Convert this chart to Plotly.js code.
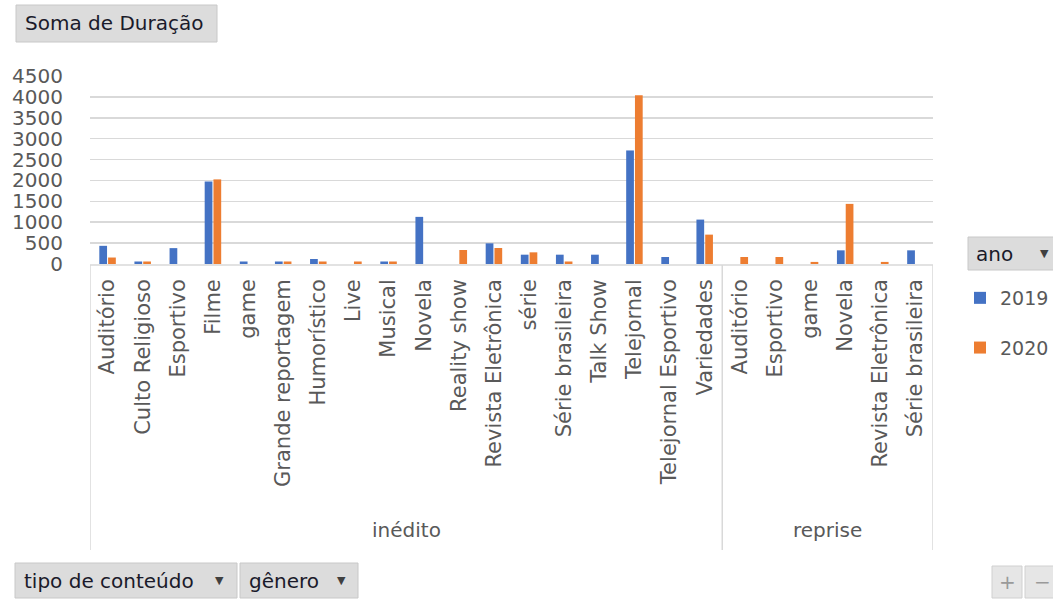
<!DOCTYPE html>
<html>
<head>
<meta charset="utf-8">
<script src="https://cdn.plot.ly/plotly-3.0.1.min.js"></script>
<style>html,body{margin:0;padding:0;background:#fff;}#chart{width:1053px;height:599px;}</style>
</head>
<body>
<div id="chart"></div>
<script>
// ---- data ----
const generoInedito = ["Auditório","Culto Religioso","Esportivo","Filme","game","Grande reportagem","Humorístico","Live","Musical","Novela","Reality show","Revista Eletrônica","série","Série brasileira","Talk Show","Telejornal","Telejornal Esportivo","Variedades"];
const generoReprise = ["Auditório","Esportivo","game","Novela","Revista Eletrônica","Série brasileira"];
const inedito2019 = [435,60,380,1975,60,60,120,null,60,1128,null,495,223,223,223,2718,167,1063];
const inedito2020 = [155,60,null,2025,null,60,60,60,60,null,335,383,279,60,null,4037,null,703];
const reprise2019 = [null,null,null,327,null,327];
const reprise2020 = [167,167,50,1439,50,null];
const grupos = ["inédito","reprise"];
const anos = ["2019","2020"];
const cores = ["#4472C4","#ED7D31"];

// ---- build ----
const labels = generoInedito.concat(generoReprise);
const xs = labels.map((_, i) => i);
const v19 = inedito2019.concat(reprise2019);
const v20 = inedito2020.concat(reprise2020);

const W = 1053, H = 599, L = 90, R = 120, T = 76, B = 335;
const pw = W - L - R, ph = H - T - B;
const xp = px => (px - L) / pw;
const yp = py => (H - B - py) / ph;

const font = "DejaVu Sans, Verdana, sans-serif";
const grey = "#595959";
const traces = [v19, v20].map((vals, k) => ({
  type: "bar", x: xs, y: vals, name: anos[k], legendgroup: anos[k],
  marker: {color: cores[k]}, hoverinfo: "y"
}));

const nI = generoInedito.length, nR = generoReprise.length;
const lineColor = "#d9d9d9";
const shapes = [-0.5, nI - 0.5, nI + nR - 0.5].map(xv => ({
  type: "line", xref: "x", yref: "paper", x0: xv, x1: xv, y0: yp(265), y1: yp(550),
  line: {color: lineColor, width: 1.5}
}));
shapes.push({type: "line", xref: "paper", yref: "paper", x0: 0, x1: 1, y0: yp(265), y1: yp(265), line: {color: lineColor, width: 1.5}});

const annotations = [
  {xref: "x", yref: "paper", x: (nI - 1) / 2, y: yp(530), yanchor: "middle", text: grupos[0], showarrow: false, font: {family: font, size: 20, color: grey}},
  {xref: "x", yref: "paper", x: nI + (nR - 1) / 2, y: yp(530), yanchor: "middle", text: grupos[1], showarrow: false, font: {family: font, size: 20, color: grey}}
];

function button(x0, y0, x1, y1, text, tx, arrowX) {
  shapes.push({type: "rect", xref: "paper", yref: "paper", x0: xp(x0), x1: xp(x1), y0: yp(y0), y1: yp(y1),
    fillcolor: "#dcdcdc", line: {color: "#c8c8c8", width: 1}, layer: "above"});
  annotations.push({xref: "paper", yref: "paper", x: xp(tx), y: yp((y0 + y1) / 2), xanchor: "left", yanchor: "middle",
    text: text, showarrow: false, font: {family: font, size: 20, color: "#1a1a2a"}});
  if (arrowX !== null) {
    annotations.push({xref: "paper", yref: "paper", x: xp(arrowX), y: yp((y0 + y1) / 2), xanchor: "center", yanchor: "middle",
      text: "▼", showarrow: false, font: {family: font, size: 11, color: "#404040"}});
  }
}
button(16, 5, 217, 42, "Soma de Duração", 23, null);
button(968, 237, 1062, 270, "ano", 974, 1044);
button(15, 563, 237, 598, "tipo de conteúdo", 22, 219);
button(240, 563, 358, 598, "gênero", 247, 341);
shapes.push({type: "rect", xref: "paper", yref: "paper", x0: xp(992), x1: xp(1022), y0: yp(566), y1: yp(598), fillcolor: "#e6e6e6", line: {color: "#d0d0d0", width: 1}});
shapes.push({type: "rect", xref: "paper", yref: "paper", x0: xp(1025), x1: xp(1062), y0: yp(566), y1: yp(598), fillcolor: "#e6e6e6", line: {color: "#d0d0d0", width: 1}});
annotations.push({xref: "paper", yref: "paper", x: xp(1007), y: yp(582), xanchor: "center", yanchor: "middle", text: "+", showarrow: false, font: {family: font, size: 20, color: "#9a9a9a"}});
annotations.push({xref: "paper", yref: "paper", x: xp(1042), y: yp(582), xanchor: "center", yanchor: "middle", text: "−", showarrow: false, font: {family: font, size: 20, color: "#9a9a9a"}});

const layout = {
  width: W, height: H,
  margin: {l: L, r: R, t: T, b: B, pad: 0, autoexpand: false},
  paper_bgcolor: "#ffffff", plot_bgcolor: "#ffffff",
  barmode: "group", bargap: 0.5, bargroupgap: 0.12,
  font: {family: font, color: grey},
  showlegend: true,
  legend: {x: xp(960), xanchor: "left", y: yp(279), yanchor: "top", traceorder: "grouped", tracegroupgap: 22,
    font: {family: font, size: 19, color: grey}, bgcolor: "rgba(0,0,0,0)", itemwidth: 30},
  xaxis: {type: "linear", range: [-0.5, nI + nR - 0.5], tickmode: "array", tickvals: xs, ticktext: labels,
    tickangle: -90, showgrid: false, zeroline: false, showline: false, ticks: "",
    tickfont: {family: font, size: 21, color: grey}, ticklabelstandoff: 10, automargin: false, fixedrange: true},
  yaxis: {range: [0, 4500], dtick: 500, tick0: 0, showgrid: true, gridcolor: "#d9d9d9", gridwidth: 1.5,
    zeroline: false, showline: false, ticks: "", tickfont: {family: font, size: 20, color: grey},
    ticklabelstandoff: 26, automargin: false, fixedrange: true},
  shapes: shapes, annotations: annotations
};
Plotly.newPlot("chart", traces, layout, {displayModeBar: false, staticPlot: true});
</script>
</body>
</html>
